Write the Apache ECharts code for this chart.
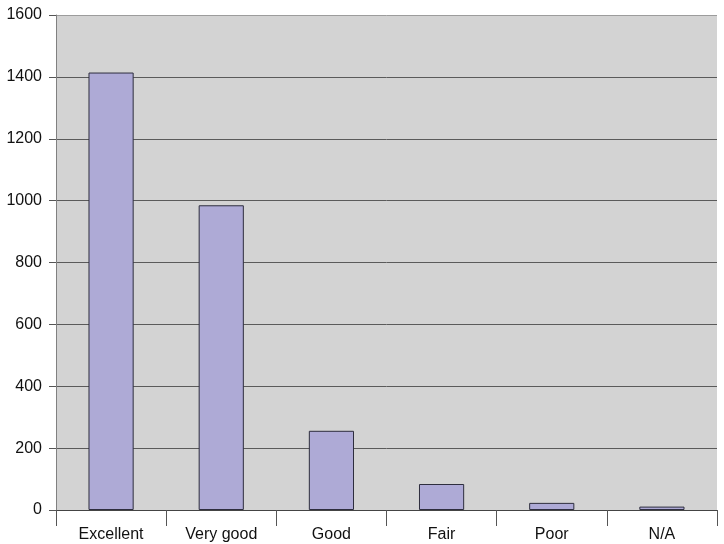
<!DOCTYPE html>
<html>
<head>
<meta charset="utf-8">
<script src="https://cdn.jsdelivr.net/npm/echarts@6/dist/echarts.min.js"></script>
<style>
  html, body { margin: 0; padding: 0; background: #ffffff; }
  #chart { width: 724px; height: 544px; }
</style>
</head>
<body>
<div id="chart"></div>
<script>
// Ratings and number of responses per rating
const categories = ['Excellent', 'Very good', 'Good', 'Fair', 'Poor', 'N/A'];
const counts = [1414, 985, 256, 84, 23, 11];
const yTicks = { min: 0, max: 1600, interval: 200 };

const chart = echarts.init(document.getElementById('chart'), null, { renderer: 'canvas' });
const labelFont = {
  fontFamily: 'Liberation Sans, Arial, sans-serif',
  fontSize: 16,
  color: '#111111'
};

// gridlines are dark, except the lighter one along the top edge
const gridCount = (yTicks.max - yTicks.min) / yTicks.interval + 1;
const gridColors = [];
for (let i = 0; i < gridCount; i++) {
  gridColors.push(i === gridCount - 1 ? '#9c9c9c' : '#5a5a5a');
}

chart.setOption({
  animation: false,
  backgroundColor: '#ffffff',
  grid: {
    left: 56, right: 7, top: 15, bottom: 34,
    show: true,
    backgroundColor: '#d3d3d3',
    borderWidth: 0
  },
  xAxis: {
    type: 'category',
    data: categories,
    axisLine: { show: true, lineStyle: { color: '#444444', width: 1 } },
    axisTick: { show: true, alignWithLabel: false, length: 16, lineStyle: { color: '#555555' } },
    axisLabel: Object.assign({ margin: 17 }, labelFont),
    splitLine: { show: false }
  },
  yAxis: {
    type: 'value',
    min: yTicks.min,
    max: yTicks.max,
    interval: yTicks.interval,
    axisLine: { show: true, lineStyle: { color: '#808080', width: 1 } },
    axisTick: { show: true, length: 7, lineStyle: { color: '#555555' } },
    axisLabel: Object.assign({ margin: 14, formatter: v => String(v) }, labelFont),
    splitLine: { show: true, lineStyle: { color: gridColors, width: 1 } }
  },
  series: [{
    type: 'bar',
    data: counts,
    barWidth: '41%',
    itemStyle: {
      color: '#aeaad6',
      borderColor: '#2e2e3e',
      borderWidth: 1
    }
  }]
});
</script>
</body>
</html>
